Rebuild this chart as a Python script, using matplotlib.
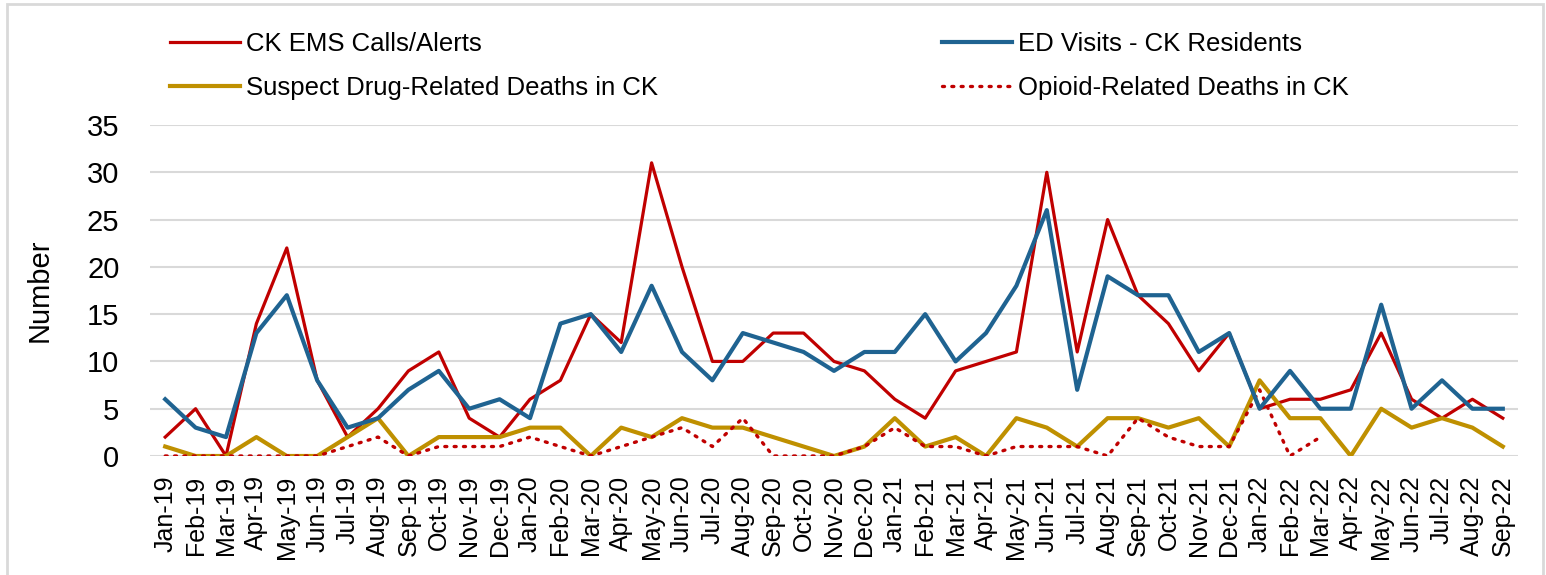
import matplotlib
matplotlib.use('Agg')
import matplotlib.pyplot as plt
from matplotlib.patches import Rectangle
from matplotlib.lines import Line2D

# Meses (ene 2019 - sep 2022)
months = ['Jan-19', 'Feb-19', 'Mar-19', 'Apr-19', 'May-19', 'Jun-19', 'Jul-19', 'Aug-19', 'Sep-19',
          'Oct-19', 'Nov-19', 'Dec-19', 'Jan-20', 'Feb-20', 'Mar-20', 'Apr-20', 'May-20', 'Jun-20',
          'Jul-20', 'Aug-20', 'Sep-20', 'Oct-20', 'Nov-20', 'Dec-20', 'Jan-21', 'Feb-21', 'Mar-21',
          'Apr-21', 'May-21', 'Jun-21', 'Jul-21', 'Aug-21', 'Sep-21', 'Oct-21', 'Nov-21', 'Dec-21',
          'Jan-22', 'Feb-22', 'Mar-22', 'Apr-22', 'May-22', 'Jun-22', 'Jul-22', 'Aug-22', 'Sep-22']

ems_calls = [2, 5, 0, 14, 22, 8, 2, 5, 9, 11, 4, 2, 6, 8, 15, 12, 31, 20, 10, 10, 13, 13, 10, 9,
             6, 4, 9, 10, 11, 30, 11, 25, 17, 14, 9, 13, 5, 6, 6, 7, 13, 6, 4, 6, 4]
ed_visits = [6, 3, 2, 13, 17, 8, 3, 4, 7, 9, 5, 6, 4, 14, 15, 11, 18, 11, 8, 13, 12, 11, 9, 11,
             11, 15, 10, 13, 18, 26, 7, 19, 17, 17, 11, 13, 5, 9, 5, 5, 16, 5, 8, 5, 5]
drug_deaths = [1, 0, 0, 2, 0, 0, 2, 4, 0, 2, 2, 2, 3, 3, 0, 3, 2, 4, 3, 3, 2, 1, 0, 1,
               4, 1, 2, 0, 4, 3, 1, 4, 4, 3, 4, 1, 8, 4, 4, 0, 5, 3, 4, 3, 1]
# Sin datos despues de Mar-22
opioid_deaths = [0, 0, 0, 0, 0, 0, 1, 2, 0, 1, 1, 1, 2, 1, 0, 1, 2, 3, 1, 4, 0, 0, 0, 1,
                 3, 1, 1, 0, 1, 1, 1, 0, 4, 2, 1, 1, 7, 0, 2]

RED = '#C00000'
BLUE = '#1F6391'
GOLD = '#BF9000'
DOTS = (0, (0.6, 2.2))

plt.rcParams['font.family'] = ['Liberation Sans', 'DejaVu Sans']

fig = plt.figure(figsize=(15.46, 5.75), dpi=100)
ax = fig.add_axes([150 / 1546, 119 / 575, 1368 / 1546, 331 / 575])

x = list(range(len(months)))
l1, = ax.plot(x, ems_calls, color=RED, lw=2.3, label='CK EMS Calls/Alerts')
l2, = ax.plot(x, ed_visits, color=BLUE, lw=3.0, label='ED Visits - CK Residents')
l3, = ax.plot(x, drug_deaths, color=GOLD, lw=3.0, label='Suspect Drug-Related Deaths in CK')
l4, = ax.plot(x[:len(opioid_deaths)], opioid_deaths, color=RED, lw=2.4, linestyle=DOTS,
              dash_capstyle='round', label='Opioid-Related Deaths in CK')
l2.set_zorder(3)

ax.set_xlim(-0.5, len(months) - 0.5)
ax.set_ylim(0, 35)
ax.set_yticks(range(0, 36, 5))
ax.set_xticks(x)
ax.set_xticklabels(months, rotation=90, fontsize=18)
ax.tick_params(axis='y', labelsize=21, length=0, pad=22)
ax.tick_params(axis='x', length=0, pad=14)
ax.grid(axis='y', color='#D9D9D9', lw=1.5)
ax.set_axisbelow(True)
for s in ax.spines.values():
    s.set_visible(False)
ax.set_ylabel('Number', fontsize=21)
ax.yaxis.set_label_coords(-0.0705, 0.5)

# Leyendas en dos columnas
leg_kw = dict(loc='upper left', frameon=False, fontsize=18.5, handlelength=2.7,
              handletextpad=0.25, labelspacing=0.78, borderaxespad=0)
leg1 = fig.legend(handles=[l1, l3], bbox_to_anchor=(160 / 1546, 1 - 22 / 575), **leg_kw)
leg2 = fig.legend(handles=[l2, Line2D([], [], color=RED, lw=2.4, linestyle=DOTS,
                                      dash_capstyle='round')],
                  labels=['ED Visits - CK Residents', 'Opioid-Related Deaths in CK'],
                  bbox_to_anchor=(932 / 1546, 1 - 22 / 575), **leg_kw)

# Marco gris alrededor del grafico
fig.patches.append(Rectangle((7 / 1546, -0.05), 1536 / 1546, 1.05 - 4 / 575,
                             transform=fig.transFigure, fill=False,
                             edgecolor='#D9D9D9', lw=2))

fig.savefig('out.png', dpi=100)
